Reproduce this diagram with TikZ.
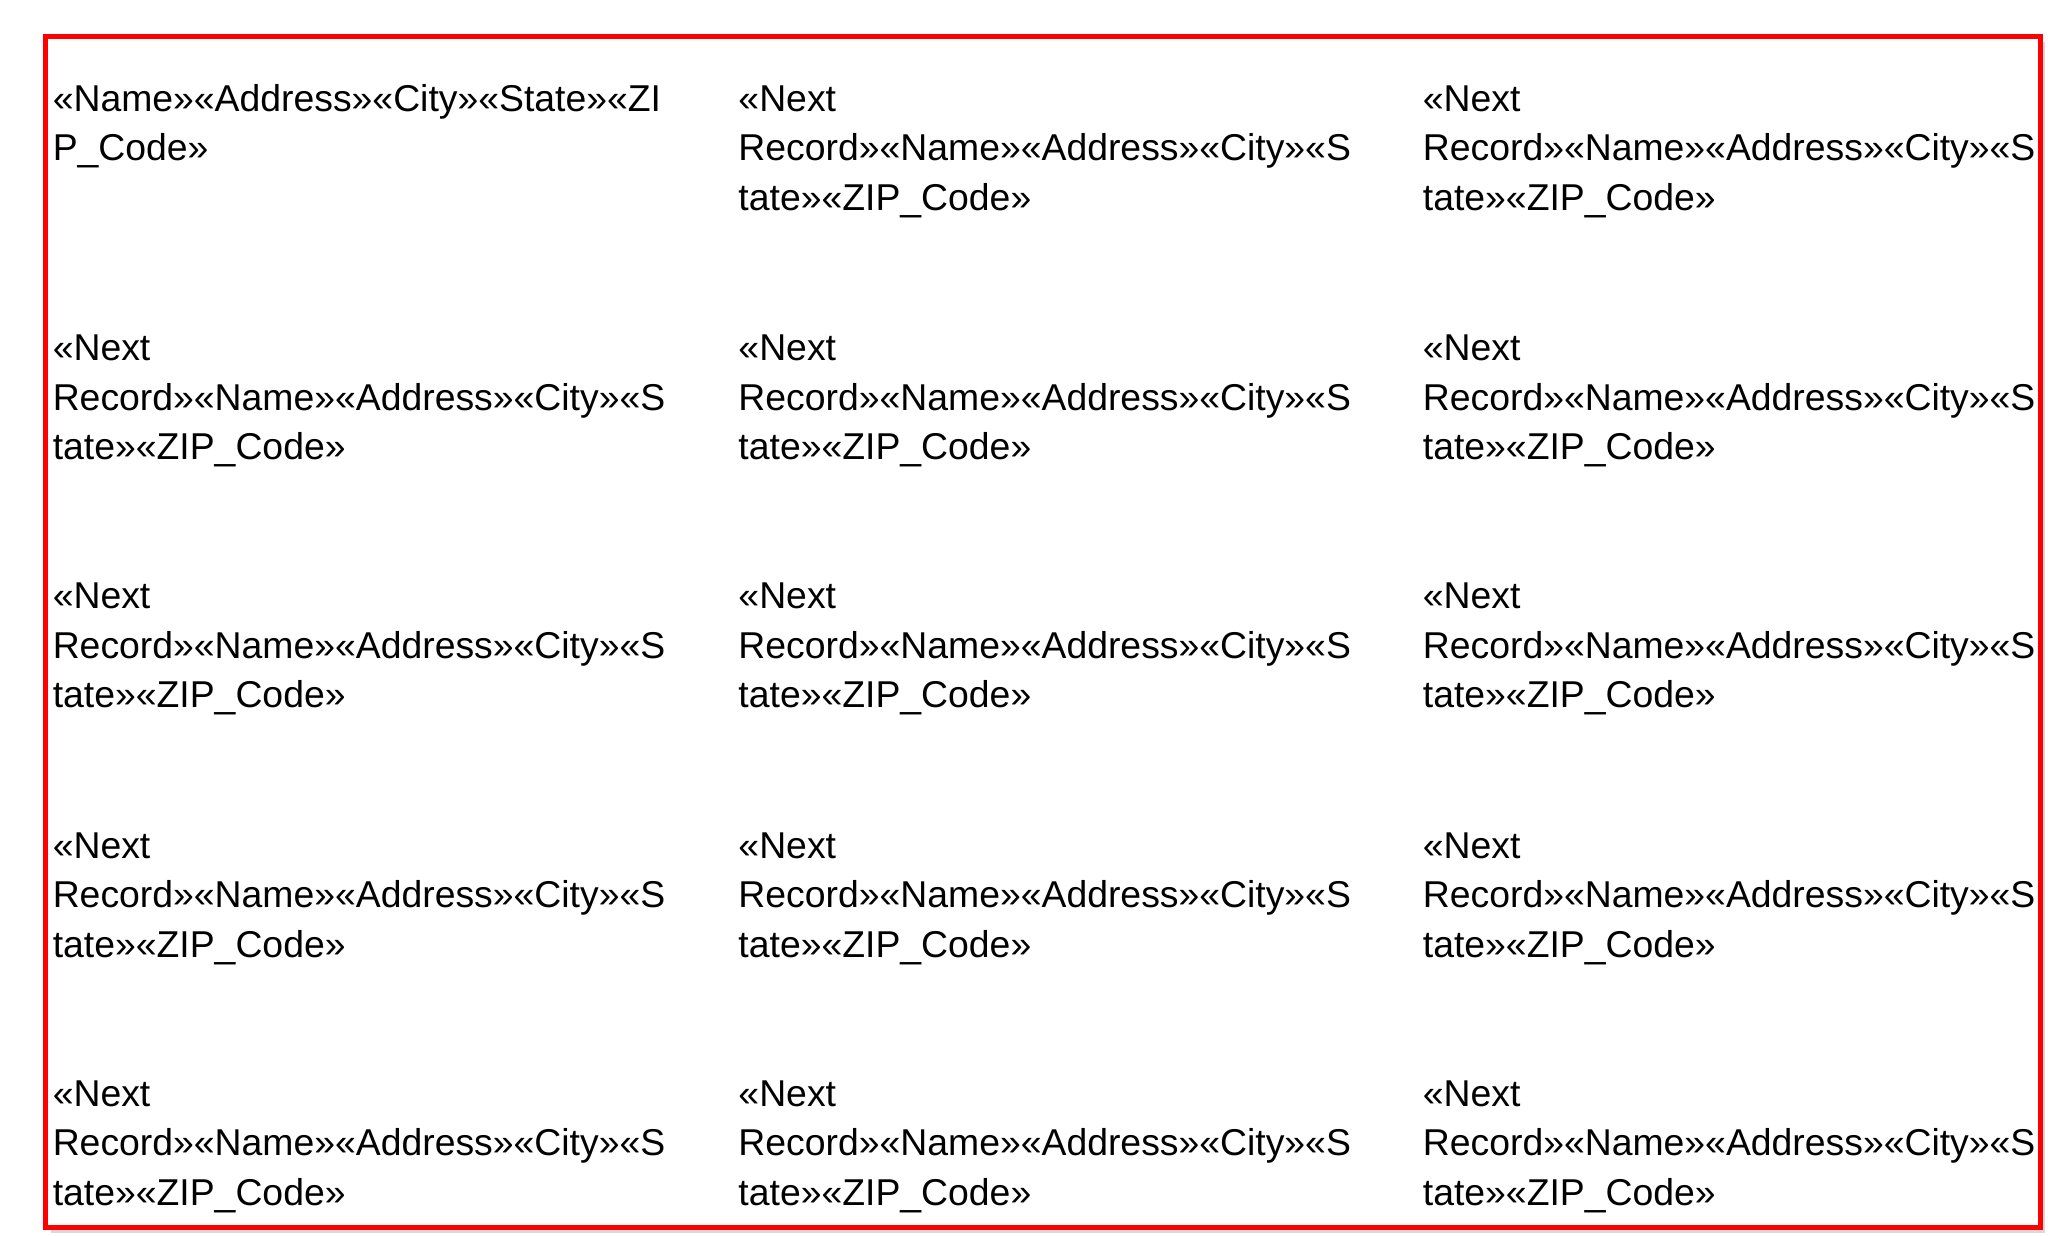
\documentclass[tikz,border=0pt]{standalone}
\usepackage{fontspec}
\setmainfont{Liberation Sans}
\begin{document}
\begin{tikzpicture}[x=0.5pt,y=-0.5pt,
  lbl/.style={anchor=base west,inner sep=0pt,align=left,font=\fontsize{14.3}{19}\selectfont}]
\useasboundingbox (0,0) rectangle (1568,947);
\fill[white] (0,0) rectangle (1568,947);
\fill[black!15] (39,32) rectangle (1566,944);
\fill[white] (35,28) rectangle (1562,940);
\begin{scope}
\clip (35,28) rectangle (1558,940);
\node[lbl] (n11) at (40,123) {«Name»«Address»«City»«State»«ZI\\P\_Code»};
\foreach \r/\y in {1/85,2/276,3/466,4/657,5/847}{
  \foreach \c/\x in {1/40,2/565,3/1089}{
    \ifnum\r\c=11\else
    \node[lbl] (n\r\c) at (\x,\y+76) {«Next\\Record»«Name»«Address»«City»«S\\tate»«ZIP\_Code»};
    \fi
  }
}
\end{scope}
\draw[red,line width=2pt] (35,28) rectangle (1562,940);
\end{tikzpicture}
\end{document}
